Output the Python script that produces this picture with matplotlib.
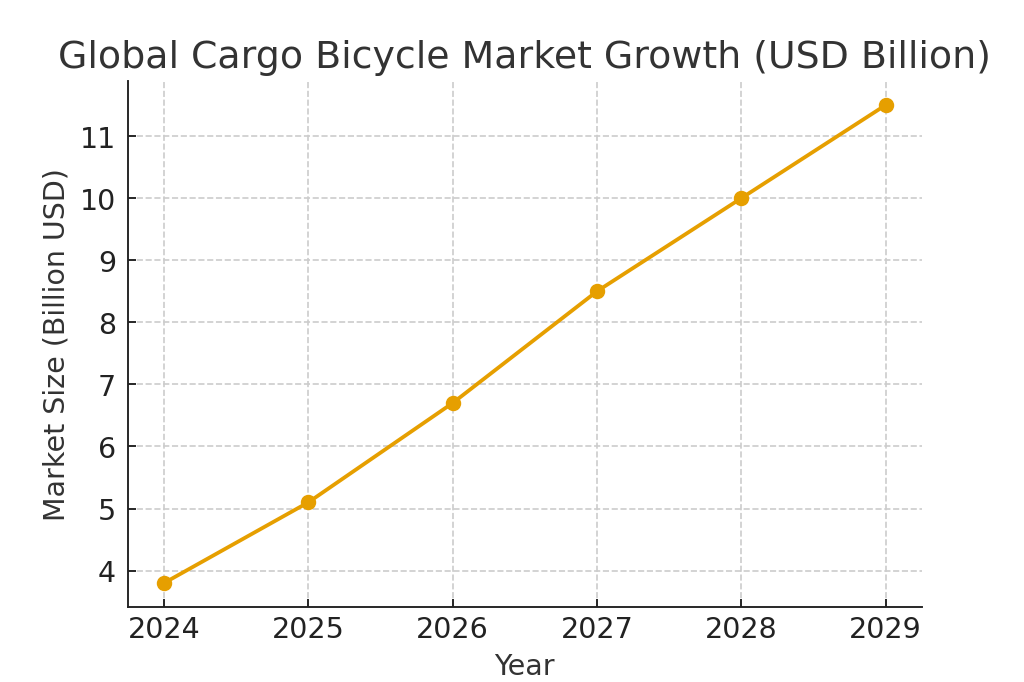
import matplotlib.pyplot as plt

years = [2024, 2025, 2026, 2027, 2028, 2029]
market_size = [3.8, 5.1, 6.7, 8.5, 10.0, 11.5]

plt.rcParams['font.family'] = ['DejaVu Sans']
plt.rcParams['text.color'] = '#333333'
plt.rcParams['axes.labelcolor'] = '#333333'
plt.rcParams['xtick.color'] = '#222222'
plt.rcParams['ytick.color'] = '#222222'

fig, ax = plt.subplots(figsize=(6, 4), dpi=1024 / 6)

ax.plot(years, market_size, marker='o', color='#E69F00', linewidth=1.6, markersize=5.5)

ax.set_title('Global Cargo Bicycle Market Growth (USD Billion)', fontsize=16)
ax.set_xlabel('Year', fontsize=12)
ax.set_ylabel('Market Size (Billion USD)', fontsize=12)
ax.set_xticks(years)
ax.tick_params(axis='both', labelsize=12, direction='in')
ax.tick_params(axis='x', pad=3.5)
ax.tick_params(axis='y', pad=5)

ax.grid(True, linestyle='--', color='#cccccc', linewidth=0.7)
ax.spines['top'].set_visible(False)
ax.spines['right'].set_visible(False)
for s in ['left', 'bottom']:
    ax.spines[s].set_color('#222222')

fig.savefig('out.png')
